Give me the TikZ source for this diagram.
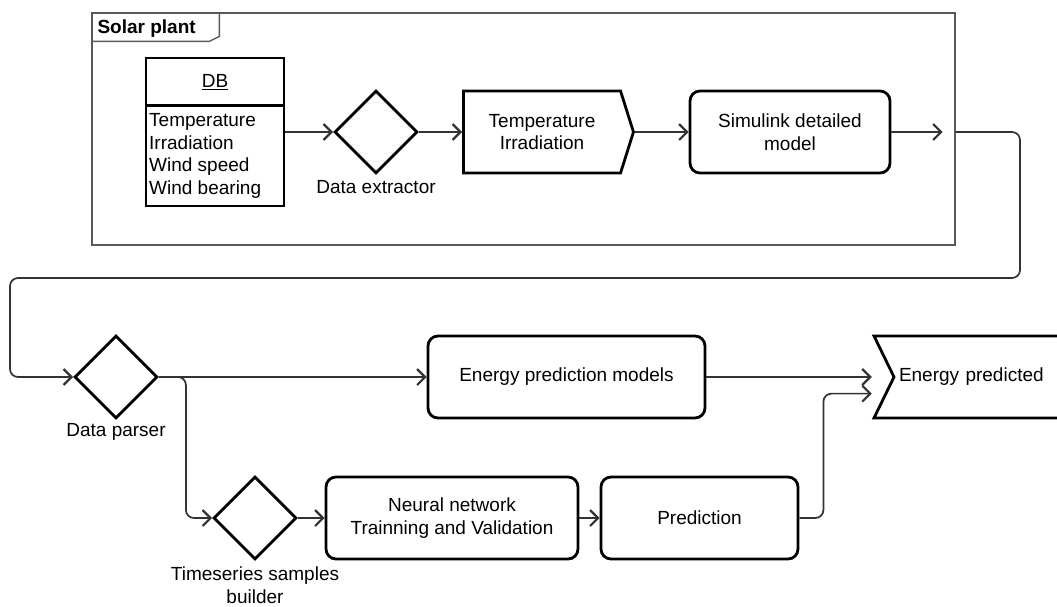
\documentclass[tikz,border=0pt]{standalone}
\usepackage{fontspec}
\setmainfont{Liberation Sans}
\usetikzlibrary{shapes.geometric,shapes.symbols,arrows.meta}
\begin{document}
\begin{tikzpicture}[x=1pt, y=-1pt,
            every node/.style={font=\fontsize{19}{22.5}\selectfont},
            blk/.style={draw=black, line width=2.8pt, rounded corners=10pt, minimum height=82pt, align=center},
            dia/.style={diamond, draw=black, line width=2.8pt, minimum width=83pt, minimum height=83pt, inner sep=0pt},
            sig/.style={signal, draw=black, line width=2.8pt, minimum height=82pt, align=center},
            conn/.style={draw=black!80, line width=1.7pt, rounded corners=8pt,
                -{Straight Barb[length=8pt,width=16pt,line width=2.2pt]}}]
            \useasboundingbox (0,0) rectangle (1057,606);

            \node[draw=black!65, line width=1.3pt, minimum width=863pt, minimum height=232pt] (plant) at (523.5,129) {};
            \draw[black!65, line width=1.3pt] ([yshift=-29pt]plant.north west) -- ++(118,0) -- ++(10,-5) -- ++(0,-24);
            \node[anchor=west, font=\fontsize{19}{22.5}\selectfont\bfseries] (plantlab) at (94,29) {Solar plant};

            \node[draw=black, line width=2.8pt, minimum width=138pt, minimum height=148pt] (db) at (215,132) {};
            \draw[line width=2.8pt] ([yshift=-49pt]db.north west) -- ([yshift=-49pt]db.north east);
            \node (dbtitle) at (215,82) {\underline{DB}};
            \node[anchor=west, align=left, inner sep=0pt] (dbfields) at (149,156) {Temperature\\Irradiation\\Wind speed\\Wind bearing};

            \node[dia] (dx) at (376,132) {};
            \node (dxlab) at (376,187) {Data extractor};
            \node[sig, signal to=east, signal pointer angle=145, minimum width=170pt] (temp) at (542,132) {Temperature\\Irradiation};
            \node[blk, minimum width=200pt] (sim) at (790,132) {Simulink detailed\\model};

            \node[dia] (dp) at (116,377) {};
            \node (dplab) at (116,432) {Data parser};
            \node[blk, minimum width=277pt] (epm) at (566.5,377) {Energy prediction models};
            \node[sig, signal from=west, signal to=nowhere, signal pointer angle=128, minimum width=200pt,
                text width=170pt, align=left] (ep) at (984,377) {Energy predicted};

            \node[dia] (ts) at (255,518) {};
            \node[align=center, inner sep=0pt] (tslab) at (255,585) {Timeseries samples\\builder};
            \node[blk, minimum width=252pt] (nn) at (452,518) {Neural network\\Trainning and Validation};
            \node[blk, minimum width=197pt] (pred) at (699.5,518) {Prediction};

            \draw[conn] (db.east) -- (dx.west);
            \draw[conn] (dx.east) -- (temp.west);
            \draw[conn] (temp.east) -- (sim.west);
            \draw[conn, shorten >=13pt] (sim.east) -- (sim.east -| plant.east);
            \draw[conn] (sim.east -| plant.east) -| (1020,278) -| (10,377) -- (dp.west);

            \draw[conn] (dp.east) -- (epm.west);
            \draw[conn] (dp.east) -- ++(27,0) |- (ts.west);
            \draw[conn] (epm.east) -- (epm.east -| ep.north west);

            \draw[conn] (ts.east) -- (nn.west);
            \draw[conn] (nn.east) -- (pred.west);
            \draw[conn] (pred.east) -- ++(24,0) |- ([yshift=-59pt]ep.north west);
        \end{tikzpicture}
\end{document}
